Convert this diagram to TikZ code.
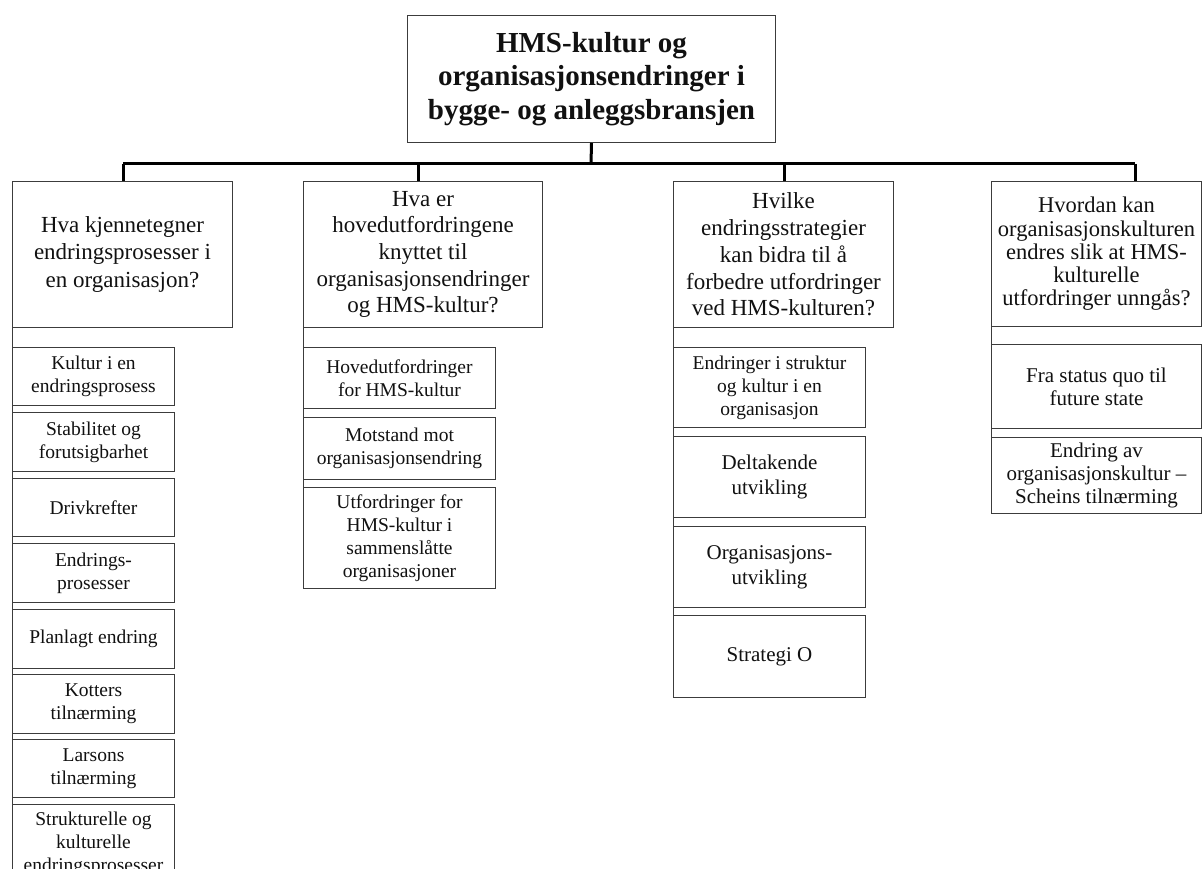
\documentclass[tikz,border=0pt]{standalone}
\usepackage{fontspec}
\setmainfont{Liberation Serif}
\usepackage{xcolor}
\usepackage{tikz}
\usetikzlibrary{positioning}
\definecolor{hmsedge}{HTML}{3C3C3C}
\definecolor{hmstree}{HTML}{000000}
\definecolor{hmsink}{HTML}{111111}
\tikzset{
  rootbox/.style={draw=hmsedge,line width=1pt,fill=white,anchor=north west,inner sep=0pt,
                  align=center,text=hmsink,font=\fontsize{29}{33.5}\selectfont\bfseries},
  questbox/.style={draw=hmsedge,line width=1pt,fill=white,anchor=north west,inner sep=0pt,
                   align=center,text=hmsink,font=\fontsize{23}{27.5}\selectfont},
  topicbox/.style={draw=hmsedge,line width=1pt,fill=white,anchor=north west,inner sep=0pt,
                   align=center,text=hmsink,font=\fontsize{19.5}{23}\selectfont},
  tree/.style={draw=hmstree,line width=3pt},
  hang/.style={draw=hmsedge,line width=1pt}
}

\begin{document}
\begin{tikzpicture}[x=1pt,y=-1pt]
    \useasboundingbox (0,0) rectangle (1202,869);
    \clip (0,0) rectangle (1202,869);

    \node[rootbox,minimum width=368pt,minimum height=127pt] (root) at (407,15) {HMS-kultur og\\organisasjonsendringer i\\bygge- og anleggsbransjen};

    \node[questbox,minimum width=220pt,minimum height=146pt] (q1) at (12,181) {Hva kjennetegner\\endringsprosesser i\\en organisasjon?};
    \node[questbox,minimum width=239pt,minimum height=146pt,font=\fontsize{23}{26.7}\selectfont] (q2) at (303,181) {Hva er\\hovedutfordringene\\knyttet til\\organisasjonsendringer\\og HMS-kultur?};
    \node[questbox,minimum width=220pt,minimum height=146pt,font=\fontsize{23}{26.7}\selectfont] (q3) at (673,181) {Hvilke\\endringsstrategier\\kan bidra til å\\forbedre utfordringer\\ved HMS-kulturen?};
    \node[questbox,minimum width=210pt,minimum height=145pt,font=\fontsize{22.5}{23.3}\selectfont] (q4) at (991,181) {Hvordan kan\\organisasjonskulturen\\endres slik at HMS-\\kulturelle\\utfordringer unngås?};

    % column 1
    \node[topicbox,minimum width=162pt,minimum height=58pt] (a1) at (12,347) {Kultur i en\\endringsprosess};
    \node[topicbox,minimum width=162pt,minimum height=59pt] (a2) at (12,412) {Stabilitet og\\forutsigbarhet};
    \node[topicbox,minimum width=162pt,minimum height=58pt] (a3) at (12,478) {Drivkrefter};
    \node[topicbox,minimum width=162pt,minimum height=59pt] (a4) at (12,543) {Endrings-\\prosesser};
    \node[topicbox,minimum width=162pt,minimum height=59pt] (a5) at (12,609) {Planlagt endring};
    \node[topicbox,minimum width=162pt,minimum height=59pt] (a6) at (12,674) {Kotters\\tilnærming};
    \node[topicbox,minimum width=162pt,minimum height=58pt] (a7) at (12,739) {Larsons\\tilnærming};
    \node[topicbox,minimum width=162pt,minimum height=78pt] (a8) at (12,804) {Strukturelle og\\kulturelle\\endringsprosesser};

    % column 2
    \node[topicbox,minimum width=192pt,minimum height=61pt] (b1) at (303,347) {Hovedutfordringer\\for HMS-kultur};
    \node[topicbox,minimum width=192pt,minimum height=62pt] (b2) at (303,417) {Motstand mot\\organisasjonsendring};
    \node[topicbox,minimum width=192pt,minimum height=101pt] (b3) at (303,487) {Utfordringer for\\HMS-kultur i\\sammenslåtte\\organisasjoner};

    % column 3
    \node[topicbox,minimum width=192pt,minimum height=80pt] (c1) at (673,347) {Endringer i struktur\\og kultur i en\\organisasjon};
    \node[topicbox,minimum width=192pt,minimum height=81pt,font=\fontsize{21}{25}\selectfont] (c2) at (673,436) {Deltakende\\utvikling};
    \node[topicbox,minimum width=192pt,minimum height=81pt,font=\fontsize{21}{25}\selectfont] (c3) at (673,526) {Organisasjons-\\utvikling};
    \node[topicbox,minimum width=192pt,minimum height=82pt,font=\fontsize{21}{25}\selectfont] (c4) at (673,615) {Strategi O};

    % column 4
    \node[topicbox,minimum width=210pt,minimum height=84pt,font=\fontsize{21}{23.3}\selectfont] (d1) at (991,344) {Fra status quo til\\future state};
    \node[topicbox,minimum width=210pt,minimum height=76pt,font=\fontsize{21}{23.3}\selectfont] (d2) at (991,437) {Endring av\\organisasjonskultur --\\Scheins tilnærming};

    \coordinate (j0) at (591,164);
    \coordinate (j1) at (123,164);
    \coordinate (j2) at (418,164);
    \coordinate (j3) at (784,164);
    \coordinate (j4) at (1135,164);

    \draw[tree] (root.south) -- (j0);
    \draw[tree] (j1) -- (j4);
    \draw[tree] (j1) -- (j1 |- q1.north);
    \draw[tree] (j2) -- (j2 |- q2.north);
    \draw[tree] (j3) -- (j3 |- q3.north);
    \draw[tree] (j4) -- (j4 |- q4.north);

    \draw[hang] (q1.south west) -- (a8.north west);
    \draw[hang] (q2.south west) -- (b3.north west);
    \draw[hang] (q3.south west) -- (c4.north west);
    \draw[hang] (q4.south west) -- (d2.north west);
\end{tikzpicture}
\end{document}
